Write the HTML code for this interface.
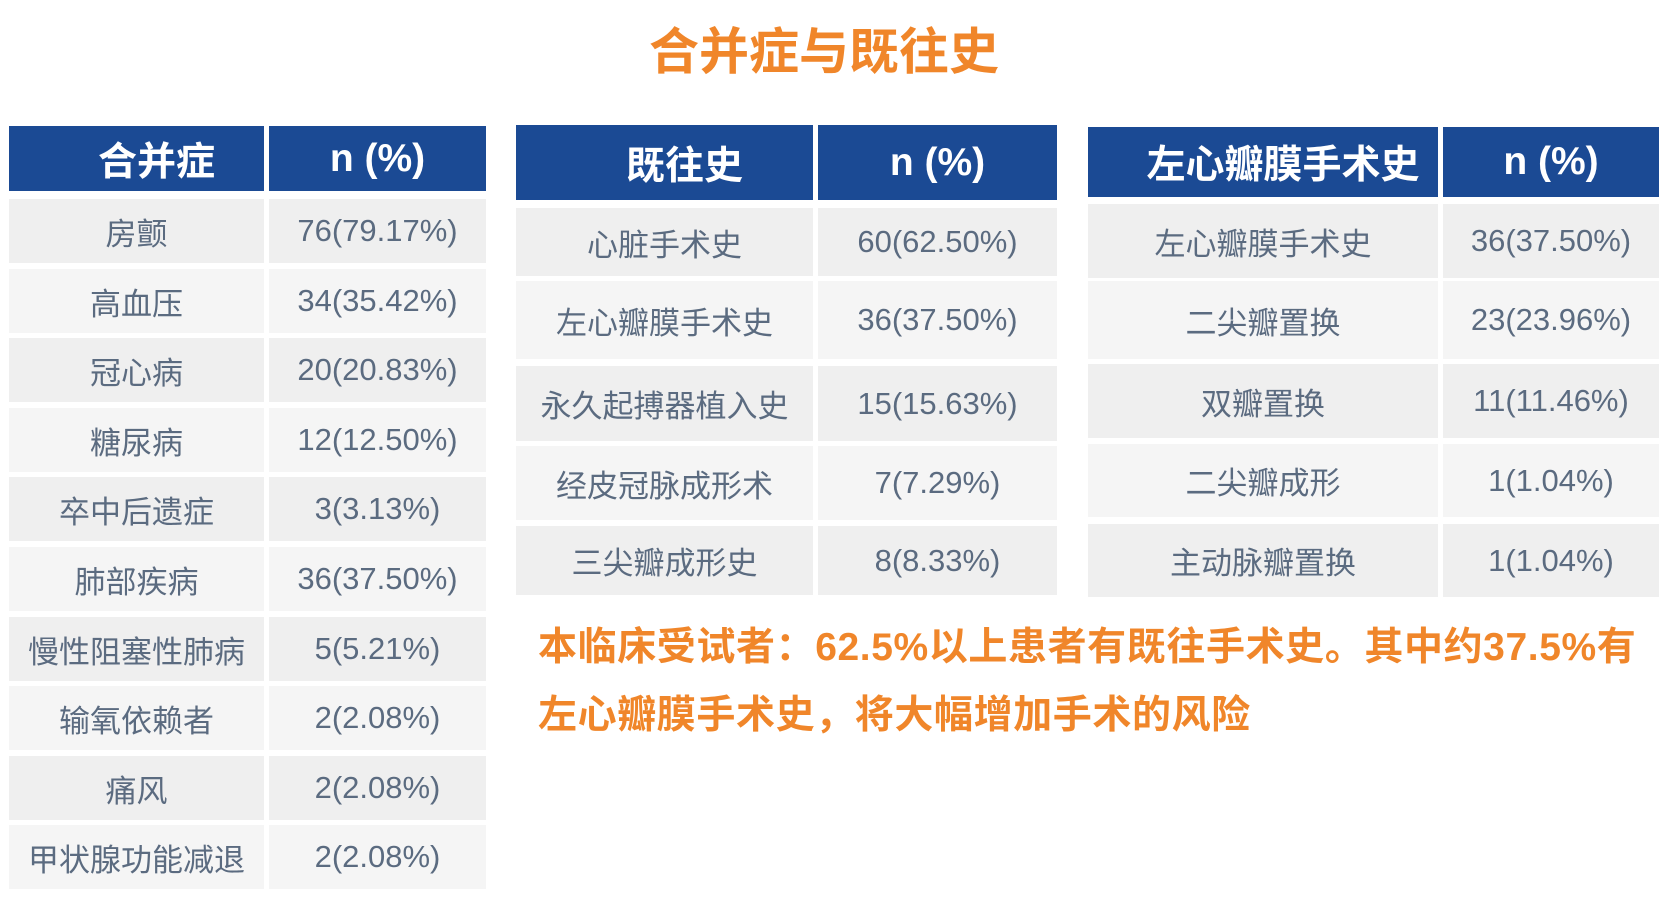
<!DOCTYPE html>
<html><head><meta charset="utf-8"><style>
body{margin:0;width:1665px;height:917px;background:#fff;position:relative;overflow:hidden;font-family:"Liberation Sans","Noto Sans CJK SC",sans-serif}
.c{position:absolute;display:flex;align-items:center;justify-content:center;box-sizing:border-box;color:#5b6b80;font-size:31px}
.h{background:#1b4a94;color:#fff;font-weight:bold;font-size:39px}
.a{background:#efefef}.b{background:#f5f5f5}
.t{position:absolute;color:#f0862a;font-weight:bold}
</style></head><body>
<div class="t" style="left:0;width:1648px;top:20px;text-align:center;font-size:50px;line-height:64px">合并症与既往史</div>
<div id="tabs"></div>
<div class="t" style="left:538px;top:614px;font-size:39px;letter-spacing:0.6px;line-height:68px;width:1127px;white-space:nowrap">本临床受试者：62.5%以上患者有既往手术史。其中约37.5%有<br>左心瓣膜手术史，将大幅增加手术的风险</div>
<script>
function tbl(x0,x1,x2,hy,rows,data,head){
 let s='';
 s+=`<div class="c h" style="left:${x0}px;top:${hy[0]}px;width:${x1-x0-5}px;height:${hy[1]-hy[0]}px;padding-left:40px">${head}</div>`;
 s+=`<div class="c h" style="left:${x1}px;top:${hy[0]}px;width:${x2-x1}px;height:${hy[1]-hy[0]}px">n (%)</div>`;
 rows.forEach((r,i)=>{let cl=i%2?'b':'a';
 s+=`<div class="c ${cl}" style="left:${x0}px;top:${r[0]}px;width:${x1-x0-5}px;height:${r[1]-r[0]}px">${data[i][0]}</div>`;
 s+=`<div class="c ${cl}" style="left:${x1}px;top:${r[0]}px;width:${x2-x1}px;height:${r[1]-r[0]}px">${data[i][1]}</div>`;});
 return s;}
let r1=[];for(let i=0;i<10;i++){let y=199+i*69.6;r1.push([Math.round(y),Math.round(y+64)]);}
let h='';
h+=tbl(9,269,486,[126,191],r1,[["房颤","76(79.17%)"],["高血压","34(35.42%)"],["冠心病","20(20.83%)"],["糖尿病","12(12.50%)"],["卒中后遗症","3(3.13%)"],["肺部疾病","36(37.50%)"],["慢性阻塞性肺病","5(5.21%)"],["输氧依赖者","2(2.08%)"],["痛风","2(2.08%)"],["甲状腺功能减退","2(2.08%)"]],"合并症");
h+=tbl(516,818,1057,[125,200],[[208,276],[281,359],[366,441],[446,520],[526,595]],[["心脏手术史","60(62.50%)"],["左心瓣膜手术史","36(37.50%)"],["永久起搏器植入史","15(15.63%)"],["经皮冠脉成形术","7(7.29%)"],["三尖瓣成形史","8(8.33%)"]],"既往史");
h+=tbl(1088,1443,1659,[127,197],[[204,278],[281,359],[364,438],[444,517],[524,597]],[["左心瓣膜手术史","36(37.50%)"],["二尖瓣置换","23(23.96%)"],["双瓣置换","11(11.46%)"],["二尖瓣成形","1(1.04%)"],["主动脉瓣置换","1(1.04%)"]],"左心瓣膜手术史");
document.getElementById('tabs').innerHTML=h;
</script>
</body></html>
